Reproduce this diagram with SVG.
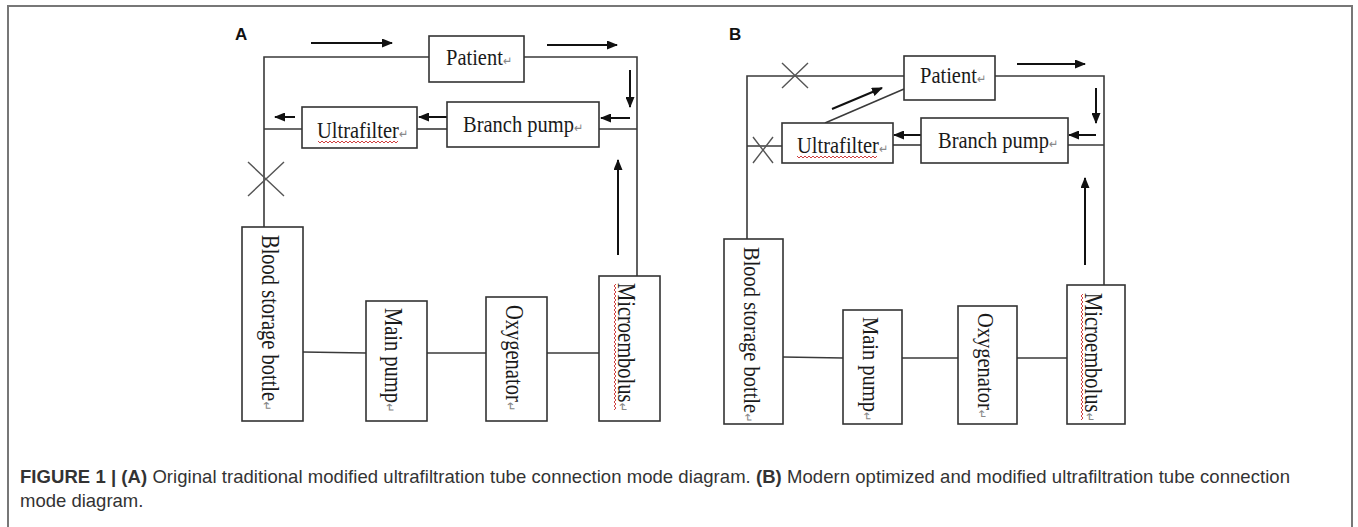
<svg xmlns="http://www.w3.org/2000/svg" width="1358" height="527" viewBox="0 0 1358 527">
<defs>
<marker id="ah" markerUnits="userSpaceOnUse" markerWidth="11" markerHeight="9" refX="10" refY="4.5" orient="auto">
<path d="M0,0 L11,4.5 L0,9 z" fill="#111"/>
</marker>
<style>
.box{fill:#fff;stroke:#333;stroke-width:1.6}
.ln{fill:none;stroke:#3a3a3a;stroke-width:1.6}
.ar{fill:none;stroke:#111;stroke-width:2;marker-end:url(#ah)}
.x{fill:none;stroke:#555;stroke-width:1.4}
.t{font-family:"Liberation Serif","Times New Roman",serif;font-size:20.5px;fill:#1a1a1a}
.pm{font-family:"DejaVu Sans",sans-serif;font-size:11px;fill:#888}
.lab{font-family:"Liberation Sans",Arial,sans-serif;font-size:17px;font-weight:bold;fill:#111}
.cap{font-family:"Liberation Sans",Arial,sans-serif;font-size:18.5px;fill:#333}
.wv{fill:none;stroke:#d04040;stroke-width:1}
.frame{fill:none;stroke:#777;stroke-width:2}
</style>
</defs>
<path class="frame" d="M8,527 V6 H1352 V527"/>

<text class="lab" x="235" y="40">A</text>
<text class="lab" x="729" y="40">B</text>

<g id="connectors">
<!-- Panel A -->
<path class="ln" d="M429,57 H264 V227"/>
<path class="ln" d="M524,57 H637 V276"/>
<path class="ln" d="M599,129 H637"/>
<path class="ln" d="M417,129 H447"/>
<path class="ln" d="M264,129 H302"/>
<path class="ln" d="M303,352 L366,353"/>
<path class="ln" d="M427,353 H486"/>
<path class="ln" d="M547,353 H599"/>
<path class="x" d="M248,162 L284,196 M248,196 L284,162"/>
<path class="ar" d="M311,43 H392"/>
<path class="ar" d="M547,45 H617"/>
<path class="ar" d="M630,70 V107"/>
<path class="ar" d="M630,118 H601"/>
<path class="ar" d="M447,117 H419"/>
<path class="ar" d="M295,117 H275"/>
<path class="ar" d="M618,255 V160"/>
<!-- Panel B -->
<path class="ln" d="M904,76 H747 V239"/>
<path class="ln" d="M995,76 H1104 V285"/>
<path class="ln" d="M1068,145 H1104"/>
<path class="ln" d="M893,145 H921"/>
<path class="ln" d="M747,146 H782"/>
<path class="ln" d="M825,123 L904,89"/>
<path class="ln" d="M783,357 L843,358"/>
<path class="ln" d="M902,358 H958"/>
<path class="ln" d="M1017,358 H1067"/>
<path class="x" d="M782,63 L808,88 M782,88 L808,63"/>
<path class="x" d="M753,137 L773,163 M753,163 L773,137"/>
<path class="ar" d="M1017,64 H1085"/>
<path class="ar" d="M1096,88 V123"/>
<path class="ar" d="M1096,135 H1069"/>
<path class="ar" d="M921,135 H894"/>
<path class="ar" d="M832,109 L882,88"/>
<path class="ar" d="M1085,265 V178"/>
</g>

<!-- Panel A nodes -->
<g id="a-patient">
<rect class="box" x="429" y="36" width="95" height="46"/>
<text class="t" transform="translate(446,65) scale(1,1.12)">Patient<tspan class="pm">↵</tspan></text>
</g>
<g id="a-branch-pump">
<rect class="box" x="447" y="102" width="152" height="45"/>
<text class="t" transform="translate(463,132) scale(1,1.12)">Branch pump<tspan class="pm">↵</tspan></text>
</g>
<g id="a-ultrafilter">
<rect class="box" x="302" y="107" width="115" height="41"/>
<text class="t" transform="translate(317,138) scale(1,1.12)">Ultrafilter<tspan class="pm">↵</tspan></text>
<path class="wv" d="M318,141 l2,2 l2,-2 l2,2 l2,-2 l2,2 l2,-2 l2,2 l2,-2 l2,2 l2,-2 l2,2 l2,-2 l2,2 l2,-2 l2,2 l2,-2 l2,2 l2,-2 l2,2 l2,-2 l2,2 l2,-2 l2,2 l2,-2 l2,2 l2,-2 l2,2 l2,-2 l2,2 l2,-2 l2,2 l2,-2 l2,2 l2,-2 l2,2 l2,-2 l2,2 l2,-2 l2,2 l2,-2"/>
</g>
<g id="a-blood-storage-bottle">
<rect class="box" x="242" y="227" width="61" height="194"/>
<text class="t" transform="translate(262,235) rotate(90) scale(1,1.2)">Blood storage bottle<tspan class="pm">↵</tspan></text>
</g>
<g id="a-main-pump">
<rect class="box" x="366" y="301" width="61" height="120"/>
<text class="t" transform="translate(385,308) rotate(90) scale(1,1.2)">Main pump<tspan class="pm">↵</tspan></text>
</g>
<g id="a-oxygenator">
<rect class="box" x="486" y="297" width="61" height="124"/>
<text class="t" transform="translate(506,305) rotate(90) scale(1,1.2)">Oxygenator<tspan class="pm">↵</tspan></text>
</g>
<g id="a-microembolus">
<rect class="box" x="599" y="276" width="61" height="145"/>
<text class="t" transform="translate(618,283) rotate(90) scale(1,1.2)">Microembolus<tspan class="pm">↵</tspan></text>
<path class="wv" d="M616,284 l-2,2 l2,2 l-2,2 l2,2 l-2,2 l2,2 l-2,2 l2,2 l-2,2 l2,2 l-2,2 l2,2 l-2,2 l2,2 l-2,2 l2,2 l-2,2 l2,2 l-2,2 l2,2 l-2,2 l2,2 l-2,2 l2,2 l-2,2 l2,2 l-2,2 l2,2 l-2,2 l2,2 l-2,2 l2,2 l-2,2 l2,2 l-2,2 l2,2 l-2,2 l2,2 l-2,2 l2,2 l-2,2 l2,2 l-2,2 l2,2 l-2,2 l2,2 l-2,2 l2,2 l-2,2 l2,2 l-2,2 l2,2 l-2,2 l2,2 l-2,2 l2,2 l-2,2 l2,2 l-2,2 l2,2 l-2,2 l2,2 l-2,2"/>
</g>

<!-- Panel B nodes -->
<g id="b-patient">
<rect class="box" x="904" y="56" width="91" height="44"/>
<text class="t" transform="translate(920,83) scale(1,1.12)">Patient<tspan class="pm">↵</tspan></text>
</g>
<g id="b-branch-pump">
<rect class="box" x="921" y="118" width="147" height="45"/>
<text class="t" transform="translate(938,148) scale(1,1.12)">Branch pump<tspan class="pm">↵</tspan></text>
</g>
<g id="b-ultrafilter">
<rect class="box" x="782" y="123" width="111" height="40"/>
<text class="t" transform="translate(797,153) scale(1,1.12)">Ultrafilter<tspan class="pm">↵</tspan></text>
<path class="wv" d="M797,156 l2,2 l2,-2 l2,2 l2,-2 l2,2 l2,-2 l2,2 l2,-2 l2,2 l2,-2 l2,2 l2,-2 l2,2 l2,-2 l2,2 l2,-2 l2,2 l2,-2 l2,2 l2,-2 l2,2 l2,-2 l2,2 l2,-2 l2,2 l2,-2 l2,2 l2,-2 l2,2 l2,-2 l2,2 l2,-2 l2,2 l2,-2 l2,2 l2,-2 l2,2 l2,-2 l2,2 l2,-2"/>
</g>
<g id="b-blood-storage-bottle">
<rect class="box" x="724" y="239" width="59" height="185"/>
<text class="t" transform="translate(744,247) rotate(90) scale(1,1.12)">Blood storage bottle<tspan class="pm">↵</tspan></text>
</g>
<g id="b-main-pump">
<rect class="box" x="843" y="310" width="59" height="114"/>
<text class="t" transform="translate(863,317) rotate(90) scale(1,1.12)">Main pump<tspan class="pm">↵</tspan></text>
</g>
<g id="b-oxygenator">
<rect class="box" x="958" y="306" width="59" height="118"/>
<text class="t" transform="translate(978,313) rotate(90) scale(1,1.12)">Oxygenator<tspan class="pm">↵</tspan></text>
</g>
<g id="b-microembolus">
<rect class="box" x="1067" y="285" width="58" height="139"/>
<text class="t" transform="translate(1085,293) rotate(90) scale(1,1.2)">Microembolus<tspan class="pm">↵</tspan></text>
<path class="wv" d="M1083,294 l-2,2 l2,2 l-2,2 l2,2 l-2,2 l2,2 l-2,2 l2,2 l-2,2 l2,2 l-2,2 l2,2 l-2,2 l2,2 l-2,2 l2,2 l-2,2 l2,2 l-2,2 l2,2 l-2,2 l2,2 l-2,2 l2,2 l-2,2 l2,2 l-2,2 l2,2 l-2,2 l2,2 l-2,2 l2,2 l-2,2 l2,2 l-2,2 l2,2 l-2,2 l2,2 l-2,2 l2,2 l-2,2 l2,2 l-2,2 l2,2 l-2,2 l2,2 l-2,2 l2,2 l-2,2 l2,2 l-2,2 l2,2 l-2,2 l2,2 l-2,2 l2,2 l-2,2 l2,2 l-2,2 l2,2 l-2,2 l2,2 l-2,2"/>
</g>

<g id="caption">
<text class="cap" x="20" y="483" textLength="1270" lengthAdjust="spacing"><tspan font-weight="bold">FIGURE 1 | (A)</tspan> Original traditional modified ultrafiltration tube connection mode diagram. <tspan font-weight="bold">(B)</tspan> Modern optimized and modified ultrafiltration tube connection</text>
<text class="cap" x="20" y="507">mode diagram.</text>
</g>
</svg>
